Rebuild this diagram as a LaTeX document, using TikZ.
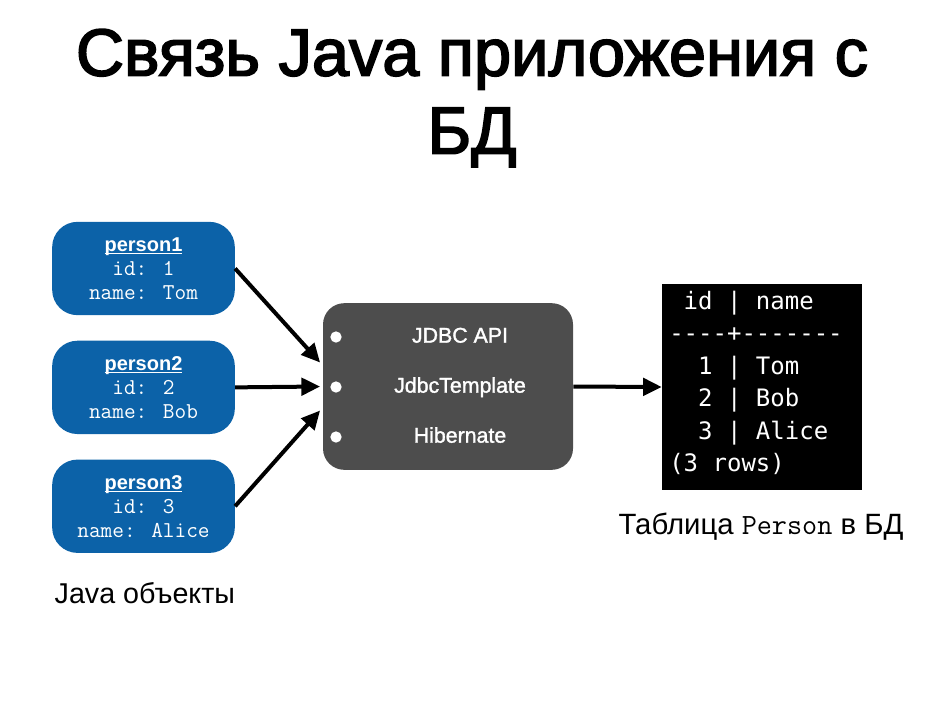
\documentclass[tikz,border=0pt]{standalone}
\usepackage{fontspec}
\setmainfont{Liberation Sans}
\newfontfamily\medfont{Liberation Sans}[FakeBold=2.5]
\newfontfamily\itemfont{Liberation Sans}[FakeBold=1.5]
\newfontfamily\menlo{DejaVu Sans Mono}
\newcommand{\baseul}[1]{\underline{\smash{#1}}\vphantom{#1}}
\usetikzlibrary{positioning,arrows.meta}
\definecolor{objblue}{RGB}{12,98,168}
\definecolor{apigray}{RGB}{77,77,77}

\begin{document}
\begin{tikzpicture}[x=0.75pt, y=-0.75pt, node distance={18.75pt},
  person/.style = {fill=objblue, text=white, rounded corners=19pt, minimum width=137pt, minimum height=70pt, align=center, font=\fontsize{17}{18}\selectfont},
  api/.style = {fill=apigray, rounded corners=16pt, minimum width=187.5pt, minimum height=125pt},
  item/.style = {text=white, text height=12pt, text depth=3.5pt, font=\itemfont\fontsize{16}{19}\selectfont},
  dot/.style = {fill=white, circle, inner sep=0pt, minimum size=8.5pt},
  link/.style = {line width=3pt, -{Triangle[length=14pt,width=13pt]}}]
\useasboundingbox (0,0) rectangle (946,708);
% title
\node[align=center, font=\medfont\fontsize{50}{58.5}\selectfont] (title) at (472,98) {Связь Java приложения с\\БД};
% java objects
\node[person] (p1) at (143.5,268.5) {{\fontsize{15}{18}\selectfont\textbf{\baseul{person1}}}\\\texttt{id: 1}\\\texttt{name: Tom}};
\node[person, below=of p1] (p2) {{\fontsize{15}{18}\selectfont\textbf{\baseul{person2}}}\\\texttt{id: 2}\\\texttt{name: Bob}};
\node[person, below=of p2] (p3) {{\fontsize{15}{18}\selectfont\textbf{\baseul{person3}}}\\\texttt{id: 3}\\\texttt{name: Alice}};
\node[anchor=west, font=\fontsize{21.5}{24}\selectfont] (objs) at (50,593) {Java объекты};
% access layer
\node[api] (api) at (448,386.5) {};
\node[dot] (d1) at (336,337) {};
\node[dot] (d2) at (336,387) {};
\node[dot] (d3) at (336,437) {};
\node[item] (jdbc) at (460,337) {JDBC API};
\node[item] (tmpl) at (460,387) {JdbcTemplate};
\node[item] (hib) at (460,437) {Hibernate};
% table
\node[fill=black, minimum width=150pt, minimum height=154.5pt] (tbl) at (762,387) {};
\node[text=white, align=left, anchor=west, inner sep=0pt, font=\menlo\fontsize{18}{24.4}\selectfont] (rows) at (669,383)
  {\ id | name\\-{}-{}-{}-+-{}-{}-{}-{}-{}-{}-\\\ \ 1 | Tom\\\ \ 2 | Bob\\\ \ 3 | Alice\\(3 rows)};
\node[font=\fontsize{22}{24}\selectfont] (cap) at (761,527) {Таблица \texttt{Person} в БД};
% arrows
\draw[link] (p1.east) -- ([xshift=-2pt,yshift=18pt]api.west);
\draw[link] (p2.east) -- ([xshift=-2pt]api.west);
\draw[link] (p3.east) -- ([xshift=-2pt,yshift=-18pt]api.west);
\draw[link] (api.east) -- (tbl.west);
\end{tikzpicture}
\end{document}
